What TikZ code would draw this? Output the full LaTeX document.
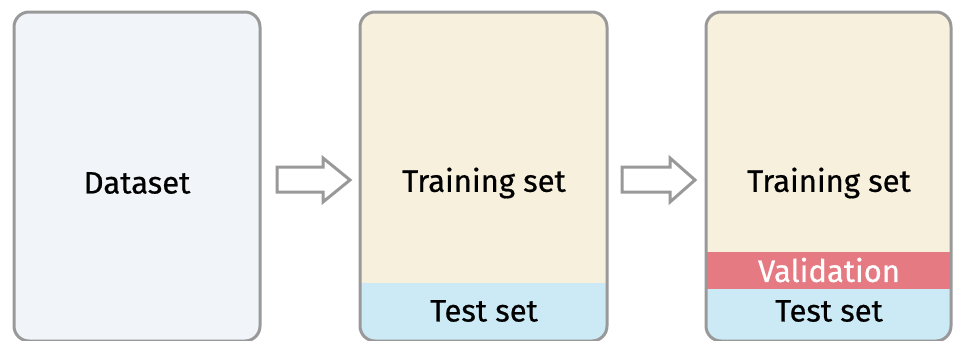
\documentclass[tikz,border=0pt]{standalone}
\usepackage{fontspec}
\setmainfont{Fira Sans}
\newfontfamily\lblfont{Fira Sans}[FakeBold=0.6]
\definecolor{bordc}{HTML}{999999}
\definecolor{datac}{HTML}{F1F5F9}
\definecolor{trainc}{HTML}{F6F0DC}
\definecolor{testc}{HTML}{CCEAF5}
\definecolor{valc}{HTML}{E57A82}
\tikzset{
  boxbord/.style={draw=bordc, line width=3pt, rounded corners=15pt},
  lbl/.style={font=\lblfont\fontsize{31}{34}\selectfont, text=black, inner sep=0pt, anchor=center},
  blockarrow/.style={draw=bordc, line width=3pt, fill=white, line join=miter},
}
\begin{document}
\begin{tikzpicture}[x=1pt,y=-1pt]
\useasboundingbox (0,0) rectangle (953,340);
\clip (0,0) rectangle (953,340);
% Box 1
\fill[datac, rounded corners=15pt] (14,12) rectangle (260,341);
\draw[boxbord] (14,12) rectangle (260,341);
\node[lbl] (ds) at (137,183) {Dataset};
% Box 2
\begin{scope}
  \clip[rounded corners=15pt] (360,12) rectangle (607,341);
  \fill[trainc] (360,12) rectangle (607,342);
  \fill[testc] (360,283) rectangle (607,342);
\end{scope}
\draw[boxbord] (360,12) rectangle (607,341);
\node[lbl] (tr2) at (484,183) {Training set};
\node[lbl] (te2) at (484,311) {Test set};
% Box 3
\begin{scope}
  \clip[rounded corners=15pt] (706,12) rectangle (952,341);
  \fill[trainc] (706,12) rectangle (952,342);
  \fill[valc] (706,252) rectangle (952,289);
  \fill[testc] (706,289) rectangle (952,342);
\end{scope}
\draw[boxbord] (706,12) rectangle (951,341);
\node[lbl] (tr3) at (829,183) {Training set};
\node[lbl, text=white] (va3) at (829,270) {Validation};
\node[lbl] (te3) at (829,311) {Test set};
% Arrows
\draw[blockarrow] (277,167) -- (323,167) -- (323,158) -- (350,180) -- (323,202) -- (323,192) -- (277,192) -- cycle;
\draw[blockarrow] (622,167) -- (670,167) -- (670,158) -- (695,180) -- (670,202) -- (670,192) -- (622,192) -- cycle;
\end{tikzpicture}
\end{document}
